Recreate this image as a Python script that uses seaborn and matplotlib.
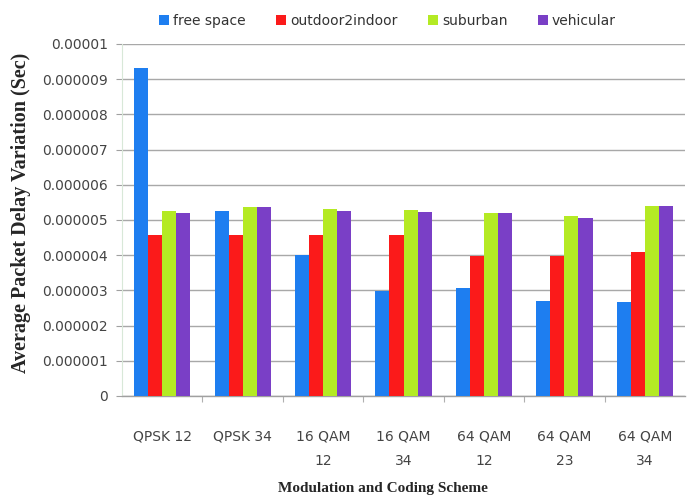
import matplotlib
matplotlib.use("Agg")
import matplotlib.pyplot as plt
import seaborn as sns
import pandas as pd
from matplotlib.ticker import FixedLocator
from matplotlib.patches import Patch

schemes = ["QPSK 12", "QPSK 34", "16 QAM\n12", "16 QAM\n34", "64 QAM\n12", "64 QAM\n23", "64 QAM\n34"]
channels = ["free space", "outdoor2indoor", "suburban", "vehicular"]

free_space = [9.32e-6, 5.25e-6, 4.00e-6, 2.97e-6, 3.08e-6, 2.71e-6, 2.67e-6]
outdoor2indoor = [4.57e-6, 4.57e-6, 4.57e-6, 4.57e-6, 3.99e-6, 3.99e-6, 4.10e-6]
suburban = [5.25e-6, 5.36e-6, 5.30e-6, 5.28e-6, 5.19e-6, 5.12e-6, 5.40e-6]
vehicular = [5.20e-6, 5.36e-6, 5.25e-6, 5.24e-6, 5.19e-6, 5.07e-6, 5.40e-6]

y_ticks = [0, 1e-6, 2e-6, 3e-6, 4e-6, 5e-6, 6e-6, 7e-6, 8e-6, 9e-6, 1e-5]
y_labels = ["0", "0.000001", "0.000002", "0.000003", "0.000004", "0.000005",
            "0.000006", "0.000007", "0.000008", "0.000009", "0.00001"]

colors = ["#1e7ef0", "#fb1a1a", "#b4ea24", "#7a3fc6"]

series = [free_space, outdoor2indoor, suburban, vehicular]
rows = []
for ch, vals in zip(channels, series):
    for s, v in zip(schemes, vals):
        rows.append({"scheme": s, "channel": ch, "delay": v})
df = pd.DataFrame(rows)

sns.set_theme(style="white")
plt.rcParams["font.family"] = ["DejaVu Sans"]

fig = plt.figure(figsize=(6.98, 5.01), dpi=100)
ax = fig.add_axes([0.1748, 0.2096, 0.8066, 0.7026])

sns.barplot(data=df, x="scheme", y="delay", hue="channel", order=schemes,
            hue_order=channels, palette=colors, width=0.7, gap=0,
            saturation=1, errorbar=None, ax=ax, legend=False, zorder=3,
            linewidth=0, edgecolor="none")

ax.set_ylim(0, 1e-5)
ax.set_xlim(-0.5, len(schemes) - 0.5)
ax.yaxis.set_major_locator(FixedLocator(y_ticks))
ax.set_yticklabels(y_labels, fontsize=10, color="#444444")
ax.tick_params(axis="y", length=4, width=0.8, color="#a0a0a0", direction="out", pad=6, left=True)
ax.tick_params(axis="x", length=0, pad=24, labelsize=10, labelcolor="#444444")
ax.xaxis.set_minor_locator(FixedLocator([i + 0.5 for i in range(len(schemes) - 1)]))
ax.tick_params(axis="x", which="minor", length=4, width=0.8, color="#b0b0b0", bottom=True, direction="out")
for lbl in ax.get_xticklabels():
    lbl.set_linespacing(2.0)

ax.yaxis.grid(True, color="#a8a8a8", linewidth=1.0, zorder=0)
ax.set_axisbelow(True)
for side in ["top", "right"]:
    ax.spines[side].set_visible(False)
ax.spines["left"].set_color("#d8e8d8")
ax.spines["left"].set_linewidth(0.8)
ax.spines["bottom"].set_color("#a0a0a0")
ax.spines["bottom"].set_linewidth(1.0)

ax.set_ylabel("Average Packet Delay Variation (Sec)", family=["Liberation Serif"],
              fontweight="bold", fontsize=14.5)
ax.yaxis.set_label_coords(-0.162, 0.52)
ax.set_xlabel("Modulation and Coding Scheme", family=["Liberation Serif"],
              fontweight="bold", fontsize=11, labelpad=0)
ax.xaxis.set_label_coords(0.4636, -0.245)

handles = [Patch(facecolor=c, edgecolor="none") for c in colors]
fig.legend(handles, channels, loc="upper center", bbox_to_anchor=(0.555, 0.998), ncol=4,
           frameon=False, fontsize=10, handlelength=0.7, handleheight=0.7,
           handletextpad=0.3, columnspacing=2.2, labelcolor="#333333")

fig.savefig("out.png", dpi=100)
